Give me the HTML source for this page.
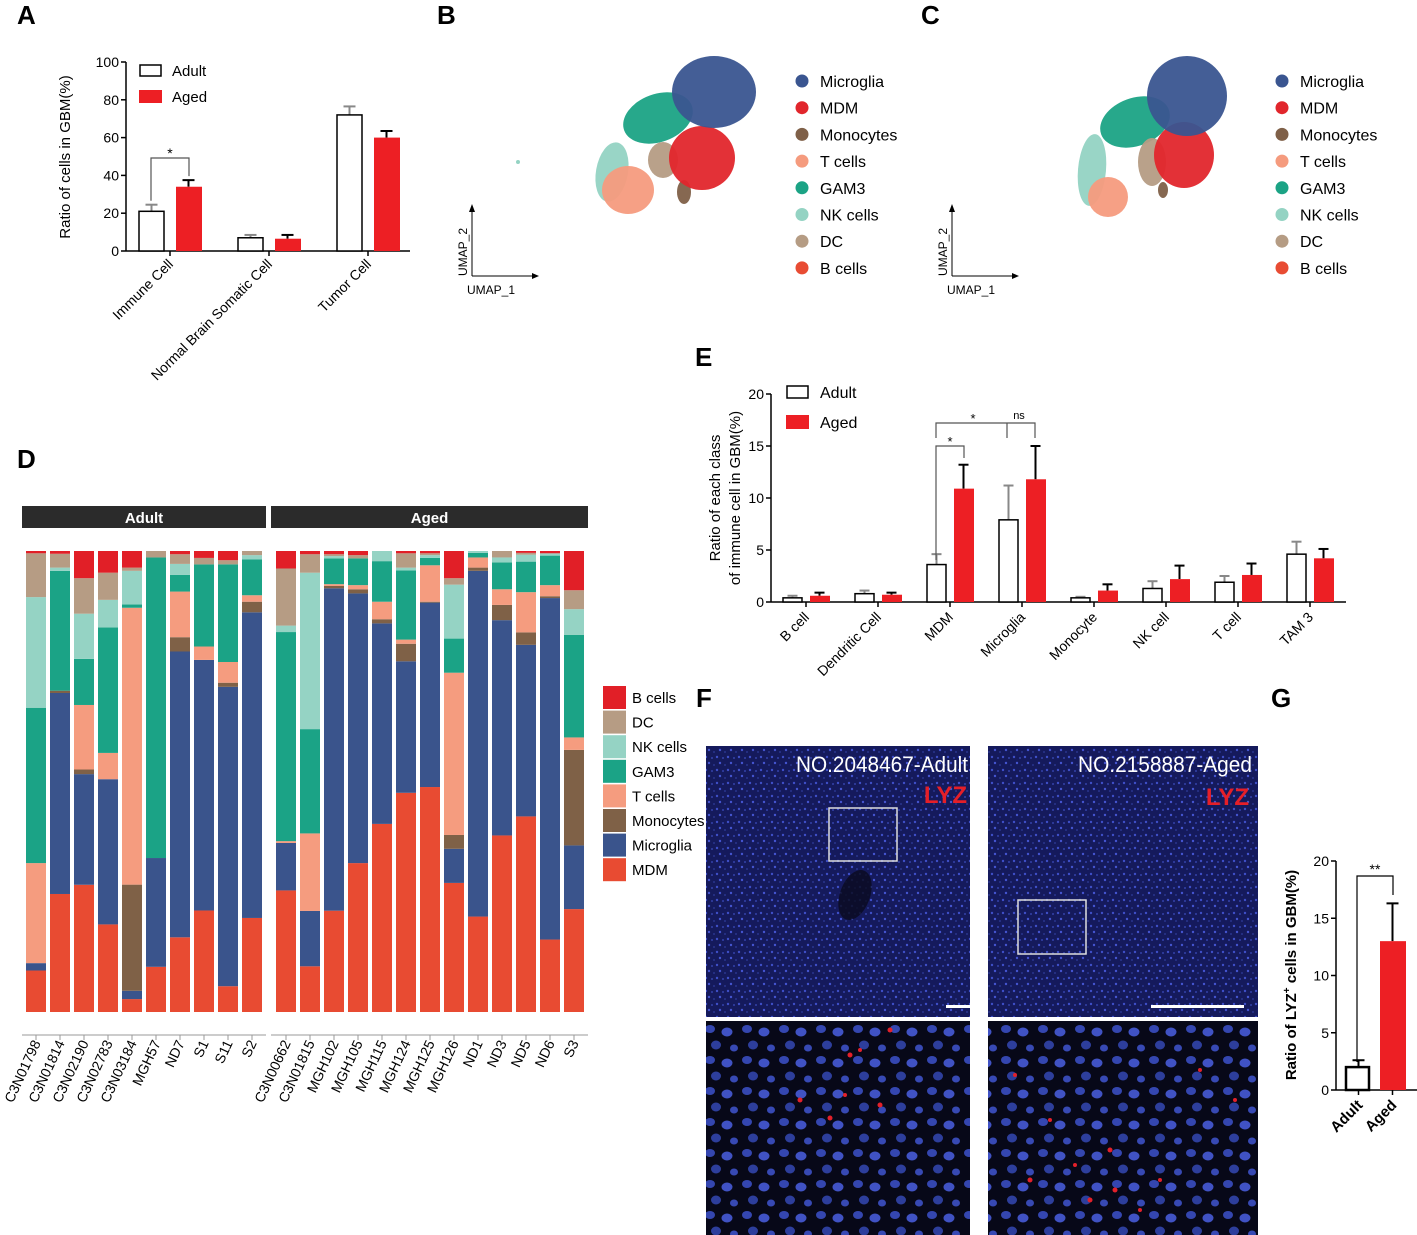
<!DOCTYPE html>
<html><head><meta charset="utf-8">
<style>
html,body{margin:0;padding:0;background:#fff;}
svg{display:block;font-family:"Liberation Sans",Arial,sans-serif;}
.pl{font-weight:bold;font-size:26px;}
</style></head>
<body>
<svg id="fig" width="1417" height="1235" viewBox="0 0 1417 1235" xmlns="http://www.w3.org/2000/svg">
<defs>
<pattern id="tissue" width="11" height="13" patternUnits="userSpaceOnUse">
<rect width="11" height="13" fill="#151a5c"/>
<circle cx="2" cy="3" r="1.2" fill="#3f4fc8"/><circle cx="8" cy="4" r="1" fill="#3341a8"/>
<circle cx="5" cy="9" r="1.2" fill="#4555d0"/><circle cx="10" cy="11" r="0.9" fill="#2f3c9c"/>
</pattern>
<pattern id="cells" width="37" height="31" patternUnits="userSpaceOnUse">
<rect width="37" height="31" fill="#070818"/>
<ellipse cx="7" cy="6" rx="5" ry="4" fill="#3446b0"/><ellipse cx="24" cy="9" rx="5.5" ry="4.5" fill="#4052c4"/>
<ellipse cx="13" cy="22" rx="5" ry="4.5" fill="#2d3e9c"/><ellipse cx="31" cy="25" rx="4" ry="3.5" fill="#3749b4"/>
</pattern>
</defs>

<text class="pl" x="17" y="24">A</text>
<text class="pl" x="437" y="24">B</text>
<text class="pl" x="921" y="24">C</text>
<text class="pl" x="17" y="468">D</text>
<text class="pl" x="695" y="366">E</text>
<text class="pl" x="696" y="707">F</text>
<text class="pl" x="1271" y="707">G</text>

<g id="panelA"></g>
<g id="panelB"></g>
<g id="panelC"></g>
<g id="panelD"></g>
<g id="panelE"></g>
<g id="panelF">
<rect x="706" y="746" width="264" height="271" fill="url(#tissue)"/>
<ellipse cx="855" cy="895" rx="15" ry="26" fill="#0a0c22" opacity="0.85" transform="rotate(20 855 895)"/>
<rect x="988" y="746" width="270" height="271" fill="url(#tissue)"/>
<rect x="829" y="808" width="68" height="53" fill="none" stroke="#ddd" stroke-width="1.5"/>
<rect x="1018" y="900" width="68" height="54" fill="none" stroke="#ddd" stroke-width="1.5"/>
<rect x="946" y="1005" width="24" height="3" fill="#fff"/>
<rect x="1151" y="1005" width="93" height="3" fill="#fff"/>
<text x="968" y="772" font-size="22" fill="#fff" text-anchor="end" textLength="172" lengthAdjust="spacingAndGlyphs">NO.2048467-Adult</text>
<text x="967" y="803" font-size="24" font-weight="bold" fill="#e51f28" text-anchor="end">LYZ</text>
<text x="1252" y="772" font-size="22" fill="#fff" text-anchor="end" textLength="174" lengthAdjust="spacingAndGlyphs">NO.2158887-Aged</text>
<text x="1249" y="805" font-size="24" font-weight="bold" fill="#e51f28" text-anchor="end">LYZ</text>
<rect x="706" y="1021" width="264" height="214" fill="url(#cells)"/>
<rect x="988" y="1021" width="270" height="214" fill="url(#cells)"/>
<g fill="#e3202a">
<circle cx="850" cy="1055" r="2.5"/><circle cx="860" cy="1050" r="2"/><circle cx="800" cy="1100" r="2.5"/><circle cx="830" cy="1118" r="2.5"/><circle cx="890" cy="1030" r="2.5"/><circle cx="880" cy="1105" r="2.5"/><circle cx="845" cy="1095" r="2"/>
<circle cx="1050" cy="1120" r="2"/><circle cx="1110" cy="1150" r="2.5"/><circle cx="1090" cy="1200" r="2.5"/><circle cx="1160" cy="1180" r="2"/><circle cx="1030" cy="1180" r="2.5"/><circle cx="1200" cy="1070" r="2"/><circle cx="1140" cy="1210" r="2"/><circle cx="1115" cy="1190" r="2.5"/><circle cx="1075" cy="1165" r="2"/><circle cx="1235" cy="1100" r="2"/><circle cx="1015" cy="1075" r="2"/>
</g>
</g>
<g id="panelG"></g>

<script>
const NS='http://www.w3.org/2000/svg';
function mk(parent,tag,attrs,text){const e=document.createElementNS(NS,tag);for(const k in attrs)e.setAttribute(k,attrs[k]);if(text!==undefined)e.textContent=text;parent.appendChild(e);return e;}

/* ---------- Panel A data ---------- */
const aCategories=['Immune Cell','Normal Brain Somatic Cell','Tumor Cell'];
const aAdult=[21,7,72];
const aAdultErr=[24.5,8.5,76.5];
const aAged=[34,6.5,60];
const aAgedErr=[37.5,8.5,63.5];
const aTicks=[0,20,40,60,80,100];

/* ---------- Panel D data (%: MDM, Microglia, Monocytes, T cells, GAM3, NK, DC, B) ---------- */
const dTypes=['MDM','Microglia','Monocytes','T cells','GAM3','NK cells','DC','B cells'];
const dAdultSamples=['C3N01798','C3N01814','C3N02190','C3N02783','C3N03184','MGH57','ND7','S1','S11','S2'];
const dAdultValues=[
[9,1.6,0,21.7,33.7,24,9.5,0.5],
[25.6,43.6,0.5,0,26,0.7,3,0.6],
[27.6,24,1,14,10,9.8,7.7,5.9],
[19,31.5,0,5.7,27.2,6,5.9,4.7],
[2.8,1.8,23,60,0.7,7.3,0.7,3.6],
[9.8,23.6,0,0,65.2,0,1.4,0],
[16.2,62,3.1,9.9,3.6,2.4,2.1,0.7],
[22,54.3,0,2.9,17.8,0,1.4,1.5],
[5.6,65,0.9,4.5,21.2,0,0.9,2],
[20.4,66.3,2.3,1.4,7.8,0.9,0.9,0]];
const dAgedSamples=['C3N00662','C3N01815','MGH102','MGH105','MGH115','MGH124','MGH125','MGH126','ND1','ND3','ND5','ND6','S3'];
const dAgedValues=[
[26.4,10.3,0,0.4,45.4,1.4,12.4,3.8],
[9.9,12,0,16.8,22.6,33.9,4,0.7],
[22,70,0.5,0.4,5.6,0.5,0.4,0.7],
[32.3,58.5,0.9,0.9,5.8,0,0.7,0.9],
[40.8,43.5,0.9,3.8,8.8,2.2,0,0],
[47.5,28.5,3.8,0.9,15,0.6,3.1,0.5],
[48.8,40,0.2,7.9,1.6,0.6,0.4,0.5],
[28,7.4,3,35.2,7.4,11.7,1.4,5.9],
[20.7,75,0.7,2.2,1,0.4,0,0],
[38.3,46.7,3.3,3.4,5.8,1.1,1.4,0],
[42.3,37.1,2.7,8.7,6.6,1.5,0.4,0.4],
[15.7,74,0.4,2.4,6.4,0.5,0,0.5],
[22.3,13.8,20.7,2.7,22.2,5.6,4.1,8.5]];

/* ---------- Panel E data ---------- */
const eCategories=['B cell','Dendritic Cell','MDM','Microglia','Monocyte','NK cell','T cell','TAM 3'];
const eAdult=[0.4,0.8,3.6,7.9,0.4,1.3,1.9,4.6];
const eAdultErr=[0.6,1.1,4.6,11.2,0.5,2.0,2.5,5.8];
const eAged=[0.6,0.7,10.9,11.8,1.1,2.2,2.6,4.2];
const eAgedErr=[0.9,0.9,13.2,15.0,1.7,3.5,3.7,5.1];
const eTicks=[0,5,10,15,20];

/* ---------- Panel G data ---------- */
const gCategories=['Adult','Aged'];
const gValues=[2,13];
const gErr=[2.6,16.3];
const gTicks=[0,5,10,15,20];

const C={MDM:'#e84b32',Microglia:'#3a548c',Monocytes:'#7f6147',T:'#f59c7f',GAM3:'#1ba386',NK:'#95d3c4',DC:'#b69c84',B:'#e11f27'};
const dColors=[C.MDM,C.Microglia,C.Monocytes,C.T,C.GAM3,C.NK,C.DC,C.B];

/* ===== Panel A ===== */
(function(){
const g=document.getElementById('panelA');
const x0=126,x1=410,yb=251,yt=62,vmax=100;
const ys=v=>yb-(v/vmax)*(yb-yt);
mk(g,'line',{x1:x0,y1:yt,x2:x0,y2:yb,stroke:'#000','stroke-width':1.5});
mk(g,'line',{x1:x0,y1:yb,x2:x1,y2:yb,stroke:'#000','stroke-width':1.5});
aTicks.forEach(t=>{mk(g,'line',{x1:x0-5,y1:ys(t),x2:x0,y2:ys(t),stroke:'#000','stroke-width':1.5});
 const tl=mk(g,'text',{x:x0-7,y:ys(t)+5,'font-size':14,'text-anchor':'end'},t);
 
 });
const yt2=mk(g,'text',{x:70,y:157,'font-size':15,'text-anchor':'middle',transform:'rotate(-90 70 157)'},'Ratio of cells in GBM(%)');


const pitch=99,bw=25;
aCategories.forEach((c,i)=>{
 const xa=139+i*pitch, xg=176+i*pitch, cx=170+i*pitch;
 mk(g,'line',{x1:xa+bw/2,y1:ys(aAdultErr[i]),x2:xa+bw/2,y2:ys(aAdult[i]),stroke:'#888','stroke-width':2});
 mk(g,'line',{x1:xa+bw/2-6,y1:ys(aAdultErr[i]),x2:xa+bw/2+6,y2:ys(aAdultErr[i]),stroke:'#888','stroke-width':2});
 const b1=mk(g,'rect',{x:xa,y:ys(aAdult[i]),width:bw,height:yb-ys(aAdult[i]),fill:'#fff',stroke:'#000','stroke-width':1.5});
 
 
 mk(g,'line',{x1:xg+bw/2,y1:ys(aAgedErr[i]),x2:xg+bw/2,y2:ys(aAged[i]),stroke:'#000','stroke-width':2});
 mk(g,'line',{x1:xg+bw/2-6,y1:ys(aAgedErr[i]),x2:xg+bw/2+6,y2:ys(aAgedErr[i]),stroke:'#000','stroke-width':2});
 const b2=mk(g,'rect',{x:xg,y:ys(aAged[i]),width:bw+1,height:yb-ys(aAged[i]),fill:'#ed1f24'});
 
 
 mk(g,'line',{x1:cx,y1:yb,x2:cx,y2:yb+5,stroke:'#000','stroke-width':1.5});
 const tl=mk(g,'text',{x:cx+4,y:yb+14,'font-size':14,'text-anchor':'end',transform:`rotate(-45 ${cx+4} ${yb+14})`},c);
 
 
});
mk(g,'path',{d:`M151 ${ys(aAdultErr[0])-4} V158 H189 V${ys(aAgedErr[0])-4}`,fill:'none',stroke:'#555','stroke-width':1.2});
mk(g,'text',{x:170,y:158,'font-size':14,'text-anchor':'middle'},'*');
mk(g,'rect',{x:140,y:65,width:21,height:11,fill:'#fff',stroke:'#000','stroke-width':1.5});
mk(g,'text',{x:172,y:76,'font-size':15},'Adult');
mk(g,'rect',{x:139,y:90,width:23,height:13,fill:'#ed1f24'});
mk(g,'text',{x:172,y:102,'font-size':15},'Aged');
})();

/* ===== Panels B & C (UMAP) ===== */
const umapLabels=['Microglia','MDM','Monocytes','T cells','GAM3','NK cells','DC','B cells'];
const umapColors=['#3a5590','#e1262c','#7f6048','#f59b7e','#1ba385','#94d3c3','#b59c84','#e84c33'];
function umap(id,dx,variant){
 const g=document.getElementById(id);
 const blobs = variant===0 ? [
  ['#94d3c3',612,172,16,30,10],['#f59b7e',628,190,26,24,0],['#1ba385',658,118,36,24,-20],
  ['#b59c84',663,160,15,18,0],['#7f6048',684,192,7,12,0],['#e1262c',702,158,33,32,0],['#3a5590',714,92,42,36,0]
 ] : [
  ['#94d3c3',1092,170,14,36,5],['#f59b7e',1108,197,20,20,0],['#1ba385',1135,122,36,24,-20],
  ['#b59c84',1152,162,14,24,0],['#7f6048',1163,190,5,8,0],['#e1262c',1184,155,30,33,0],['#3a5590',1187,96,40,40,0]
 ];
 blobs.forEach(b=>{const e=mk(g,'ellipse',{cx:b[1],cy:b[2],rx:b[3],ry:b[4],fill:b[0],opacity:0.95,transform:`rotate(${b[5]} ${b[1]} ${b[2]})`});
  
  });
 if(variant===0){mk(g,'circle',{cx:518,cy:162,r:2,fill:'#94d3c3'});}
 const ax=472+dx;
 mk(g,'line',{x1:ax,y1:276,x2:ax,y2:210,stroke:'#000','stroke-width':1});
 mk(g,'path',{d:`M${ax-3} 212 L${ax} 204 L${ax+3} 212Z`,fill:'#000'});
 mk(g,'line',{x1:ax,y1:276,x2:ax+62,y2:276,stroke:'#000','stroke-width':1});
 mk(g,'path',{d:`M${ax+60} 273 L${ax+67} 276 L${ax+60} 279Z`,fill:'#000'});
 mk(g,'text',{x:ax-5,y:252,'font-size':12,'text-anchor':'middle',transform:`rotate(-90 ${ax-5} 252)`},'UMAP_2');
 mk(g,'text',{x:ax-5,y:294,'font-size':12},'UMAP_1');
 umapLabels.forEach((l,i)=>{const y=81+i*26.7;
  const d=mk(g,'circle',{cx:802+dx,cy:y,r:6.5,fill:umapColors[i]});
  
  
  const t=mk(g,'text',{x:820+dx,y:y+6,'font-size':16},l);
  
  });
}
umap('panelB',0,0);umap('panelC',480,1);

/* ===== Panel D ===== */
(function(){
const g=document.getElementById('panelD');
const yt=551,yb=1012,bw=20,pitch=24;
const hdr=[[22,266,'Adult'],[271,588,'Aged']];
hdr.forEach(h=>{const r=mk(g,'rect',{x:h[0],y:506,width:h[1]-h[0],height:22,fill:'#2b2b2b'});
 
 
 mk(g,'text',{x:(h[0]+h[1])/2,y:523,'font-size':15,'font-weight':'bold',fill:'#fff','text-anchor':'middle'},h[2]);
 mk(g,'line',{x1:h[0],y1:1035,x2:h[1],y2:1035,stroke:'#999','stroke-width':1});});
function draw(samples,vals,x0){
 samples.forEach((s,i)=>{
  const x=x0+i*pitch;const tot=vals[i].reduce((a,b)=>a+b,0);let y=yb;
  vals[i].forEach((v,k)=>{const h=v/tot*(yb-yt);if(h<=0)return;
   const r=mk(g,'rect',{x:x,y:y-h,width:bw,height:h,fill:dColors[k]});
   
   
   y-=h;});
  const cx=x+bw/2;
  mk(g,'line',{x1:cx,y1:1035,x2:cx,y2:1040,stroke:'#999','stroke-width':1});
  const t=mk(g,'text',{x:cx+5,y:1043,'font-size':14,'text-anchor':'end',transform:`rotate(-65 ${cx+5} 1043)`},s);
  
  
 });
}
draw(dAdultSamples,dAdultValues,26);
draw(dAgedSamples,dAgedValues,276);
const legendOrder=[7,6,5,4,3,2,1,0];
legendOrder.forEach((k,i)=>{const y=686+i*24.6;
 const r=mk(g,'rect',{x:603,y:y,width:23,height:23,fill:dColors[k]});
 
 
 const t=mk(g,'text',{x:632,y:y+17,'font-size':15},dTypes[k]);
 
 });
})();

/* ===== Panel E ===== */
(function(){
const g=document.getElementById('panelE');
const x0=771,x1=1346,yb=602,yt=394,vmax=20;
const ys=v=>yb-(v/vmax)*(yb-yt);
mk(g,'line',{x1:x0,y1:yt,x2:x0,y2:yb,stroke:'#000','stroke-width':1.5});
mk(g,'line',{x1:x0,y1:yb,x2:x1,y2:yb,stroke:'#000','stroke-width':1.5});
eTicks.forEach(t=>{mk(g,'line',{x1:x0-5,y1:ys(t),x2:x0,y2:ys(t),stroke:'#000','stroke-width':1.5});
 const tl=mk(g,'text',{x:x0-7,y:ys(t)+5,'font-size':14,'text-anchor':'end'},t);
 
 });
const t1=mk(g,'text',{x:720,y:498,'font-size':15,'text-anchor':'middle',transform:'rotate(-90 720 498)'},'Ratio of each class');


mk(g,'text',{x:740,y:498,'font-size':15,'text-anchor':'middle',transform:'rotate(-90 740 498)'},'of immune cell in GBM(%)');
const pitch=72,bw=19;
eCategories.forEach((c,i)=>{
 const xa=783+i*pitch,xg=xa+27,cx=xa+23;
 mk(g,'line',{x1:xa+bw/2,y1:ys(eAdultErr[i]),x2:xa+bw/2,y2:ys(eAdult[i]),stroke:'#888','stroke-width':2});
 mk(g,'line',{x1:xa+bw/2-5,y1:ys(eAdultErr[i]),x2:xa+bw/2+5,y2:ys(eAdultErr[i]),stroke:'#888','stroke-width':2});
 const b1=mk(g,'rect',{x:xa,y:ys(eAdult[i]),width:bw,height:yb-ys(eAdult[i]),fill:'#fff',stroke:'#000','stroke-width':1.5});
 
 
 mk(g,'line',{x1:xg+bw/2,y1:ys(eAgedErr[i]),x2:xg+bw/2,y2:ys(eAged[i]),stroke:'#000','stroke-width':2});
 mk(g,'line',{x1:xg+bw/2-5,y1:ys(eAgedErr[i]),x2:xg+bw/2+5,y2:ys(eAgedErr[i]),stroke:'#000','stroke-width':2});
 const b2=mk(g,'rect',{x:xg,y:ys(eAged[i]),width:bw+1,height:yb-ys(eAged[i]),fill:'#ed1f24'});
 
 
 mk(g,'line',{x1:cx,y1:yb,x2:cx,y2:yb+5,stroke:'#000','stroke-width':1.5});
 const tl=mk(g,'text',{x:cx+4,y:yb+16,'font-size':14,'text-anchor':'end',transform:`rotate(-45 ${cx+4} ${yb+16})`},c);
 
 
});
mk(g,'path',{d:'M936 560 V446 H964 V458',fill:'none',stroke:'#555','stroke-width':1.2});
mk(g,'text',{x:950,y:446,'font-size':13,'text-anchor':'middle'},'*');
mk(g,'path',{d:'M936 438 V423 H1035 V438 M1007 423 V438',fill:'none',stroke:'#555','stroke-width':1.2});
mk(g,'text',{x:973,y:423,'font-size':13,'text-anchor':'middle'},'*');
mk(g,'text',{x:1019,y:419,'font-size':11,'text-anchor':'middle'},'ns');
mk(g,'rect',{x:787,y:386,width:21,height:12,fill:'#fff',stroke:'#000','stroke-width':1.5});
mk(g,'text',{x:820,y:398,'font-size':16},'Adult');
mk(g,'rect',{x:786,y:415,width:23,height:14,fill:'#ed1f24'});
mk(g,'text',{x:820,y:428,'font-size':16},'Aged');
})();

/* ===== Panel G ===== */
(function(){
const g=document.getElementById('panelG');
const x0=1336,x1=1418,yb=1090,yt=861,vmax=20;
const ys=v=>yb-(v/vmax)*(yb-yt);
mk(g,'line',{x1:x0,y1:yt,x2:x0,y2:yb,stroke:'#000','stroke-width':1.5});
mk(g,'line',{x1:x0,y1:yb,x2:x1,y2:yb,stroke:'#000','stroke-width':1.5});
gTicks.forEach(t=>{mk(g,'line',{x1:x0-5,y1:ys(t),x2:x0,y2:ys(t),stroke:'#000','stroke-width':1.5});
 const tl=mk(g,'text',{x:x0-7,y:ys(t)+5,'font-size':14,'text-anchor':'end'},t);
 
 });
const yt2=mk(g,'text',{x:1296,y:975,'font-size':15,'font-weight':'bold','text-anchor':'middle',transform:'rotate(-90 1296 975)'});


mk(yt2,'tspan',{},'Ratio of LYZ');
mk(yt2,'tspan',{dy:-6,'font-size':10},'+');
mk(yt2,'tspan',{dy:6},' cells in GBM(%)');
const xs=[1346,1380],bw=25;
gCategories.forEach((c,i)=>{
 const x=xs[i];
 mk(g,'line',{x1:x+bw/2,y1:ys(gErr[i]),x2:x+bw/2,y2:ys(gValues[i]),stroke:'#000','stroke-width':2});
 mk(g,'line',{x1:x+bw/2-6,y1:ys(gErr[i]),x2:x+bw/2+6,y2:ys(gErr[i]),stroke:'#000','stroke-width':2});
 const b=mk(g,'rect',i===0?{x:x,y:ys(gValues[i]),width:bw-2,height:yb-ys(gValues[i]),fill:'#fff',stroke:'#000','stroke-width':2.5}:{x:x,y:ys(gValues[i]),width:bw+1,height:yb-ys(gValues[i]),fill:'#ed1f24'});
 
 
 const cx=x+bw/2;
 mk(g,'line',{x1:cx,y1:yb,x2:cx,y2:yb+5,stroke:'#000','stroke-width':1.5});
 const tl=mk(g,'text',{x:cx+5,y:yb+16,'font-size':15,'font-weight':'bold','text-anchor':'end',transform:`rotate(-45 ${cx+5} ${yb+16})`},c);
 
 
});
mk(g,'path',{d:'M1357 1062 V876 H1393 V895',fill:'none',stroke:'#000','stroke-width':1.2});
mk(g,'text',{x:1375,y:874,'font-size':14,'text-anchor':'middle'},'**');
})();
</script>
</svg>
</body></html>
